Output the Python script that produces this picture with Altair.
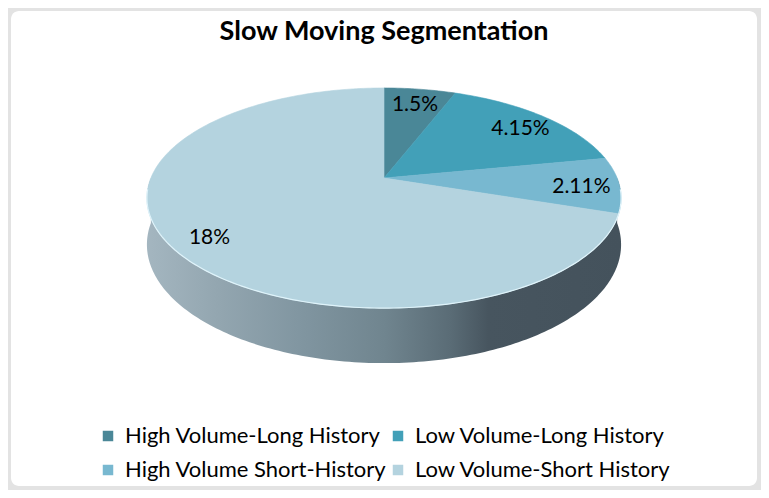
import numpy as np
import pandas as pd
import altair as alt

# ---- data ----
categories = ["High Volume-Long History", "Low Volume-Long History",
              "High Volume Short-History", "Low Volume-Short History"]
values = [1.5, 4.15, 2.11, 18]
colors = ["#4a8797", "#42a0b8", "#78b8d0", "#b4d3df"]
title_text = "Slow Moving Segmentation"

# legend is laid out column by column, so list it in that order
legend_order = [0, 2, 1, 3]

# ---- 3D pie geometry (perspective-tilted disc) ----
P = 0.182   # perspective strength
A = 1.0     # horizontal radius (units)
B = 0.4565  # vertical radius (units)
D = 0.193   # thickness (units)


def proj(phi_deg, r=1.0, drop=0.0):
    ph = np.radians(phi_deg)
    w = 1.0 / (1.0 + P * r * np.cos(ph))
    return r * A * np.sin(ph) * w, r * B * np.cos(ph) * w - drop * w


total = float(sum(values))
bounds = np.concatenate([[0.0], np.cumsum(values) / total * 360.0])

# top faces
rows = []
for i, cat in enumerate(categories):
    s, e = bounds[i], bounds[i + 1]
    n = max(3, int(e - s) + 2)
    pts = [(0.0, 0.0)] + [proj(p) for p in np.linspace(s, e, n)] + [(0.0, 0.0)]
    for k, (x, y) in enumerate(pts):
        rows.append({"cat": cat, "x": x, "y": y, "o": k})
top_df = pd.DataFrame(rows)

# side wall (front half)
phis = np.linspace(90, 270, 181)
top_rim = [proj(p) for p in phis]
bot_rim = [proj(p, drop=D) for p in phis[::-1]]
side_pts = top_rim + bot_rim
side_df = pd.DataFrame({"x": [p[0] for p in side_pts], "y": [p[1] for p in side_pts],
                        "o": list(range(len(side_pts)))})

# highlight on the front rim
hp = np.linspace(96, 264, 169)
rim_pts = [proj(p) for p in hp]
rim_df = pd.DataFrame({"x": [p[0] for p in rim_pts], "y": [p[1] for p in rim_pts],
                       "o": list(range(len(rim_pts)))})

# labels
lab = []
for i, v in enumerate(values):
    m = (bounds[i] + bounds[i + 1]) / 2
    x, y = proj(m, r=0.84)
    lab.append({"x": x, "y": y, "t": f"{v:g}%"})
lab_df = pd.DataFrame(lab)

# ---- scales ----
xs = alt.Scale(domain=[-1.6, 1.6], nice=False, zero=False)
ys = alt.Scale(domain=[-1.3211, 0.7164], nice=False, zero=False)
X = alt.X("x:Q", scale=xs, axis=None)
Y = alt.Y("y:Q", scale=ys, axis=None)

side_grad = alt.LinearGradient(
    gradient="linear", x1=0, x2=1, y1=0, y2=0,
    stops=[
        alt.GradientStop(color="#a4b6c0", offset=0),
        alt.GradientStop(color="#93a6b0", offset=0.15),
        alt.GradientStop(color="#8196a1", offset=0.32),
        alt.GradientStop(color="#70858f", offset=0.5),
        alt.GradientStop(color="#5a6c76", offset=0.64),
        alt.GradientStop(color="#47555f", offset=0.72),
        alt.GradientStop(color="#44525c", offset=1),
    ],
)

side = alt.Chart(side_df).mark_line(fill=side_grad, strokeWidth=0).encode(
    x=X, y=Y, order="o:Q")

cscale = alt.Scale(domain=[categories[i] for i in legend_order],
                   range=[colors[i] for i in legend_order])
top = alt.Chart(top_df).mark_line(strokeWidth=0.6).encode(
    x=X, y=Y, order="o:Q", detail="cat:N",
    fill=alt.Fill("cat:N", scale=cscale, title=None,
                  legend=alt.Legend(orient="none", legendX=86, legendY=414,
                                    columns=2, symbolType="square", symbolSize=110,
                                    symbolStrokeWidth=0, labelFont="Lato",
                                    labelFontSize=22, labelColor="#000000",
                                    labelOffset=6, columnPadding=-30, rowPadding=12,
                                    padding=0, labelLimit=400)),
    stroke=alt.Stroke("cat:N", scale=cscale, legend=None),
)

rim = alt.Chart(rim_df).mark_line(stroke="#dff3fa", strokeWidth=1.2).encode(
    x=X, y=Y, order="o:Q")

labels = alt.Chart(lab_df).mark_text(font="Lato", fontSize=21, color="#000000", dy=3).encode(
    x=X, y=Y, text="t:N")

chart = alt.layer(side, top, rim, labels).properties(
    width=746, height=475,
    autosize=alt.AutoSizeParams(type="none"),
    padding={"left": 3, "top": 3, "right": 4, "bottom": 4},
    background="#e3e3e3",
    title=alt.Title(title_text, font="Lato", fontSize=27, fontWeight="bold",
                    color="#000000", anchor="middle", offset=-35),
).configure_view(fill="white", strokeWidth=0, cornerRadius=8)

chart.save("out.html", embed_options={"renderer": "svg", "actions": False})
